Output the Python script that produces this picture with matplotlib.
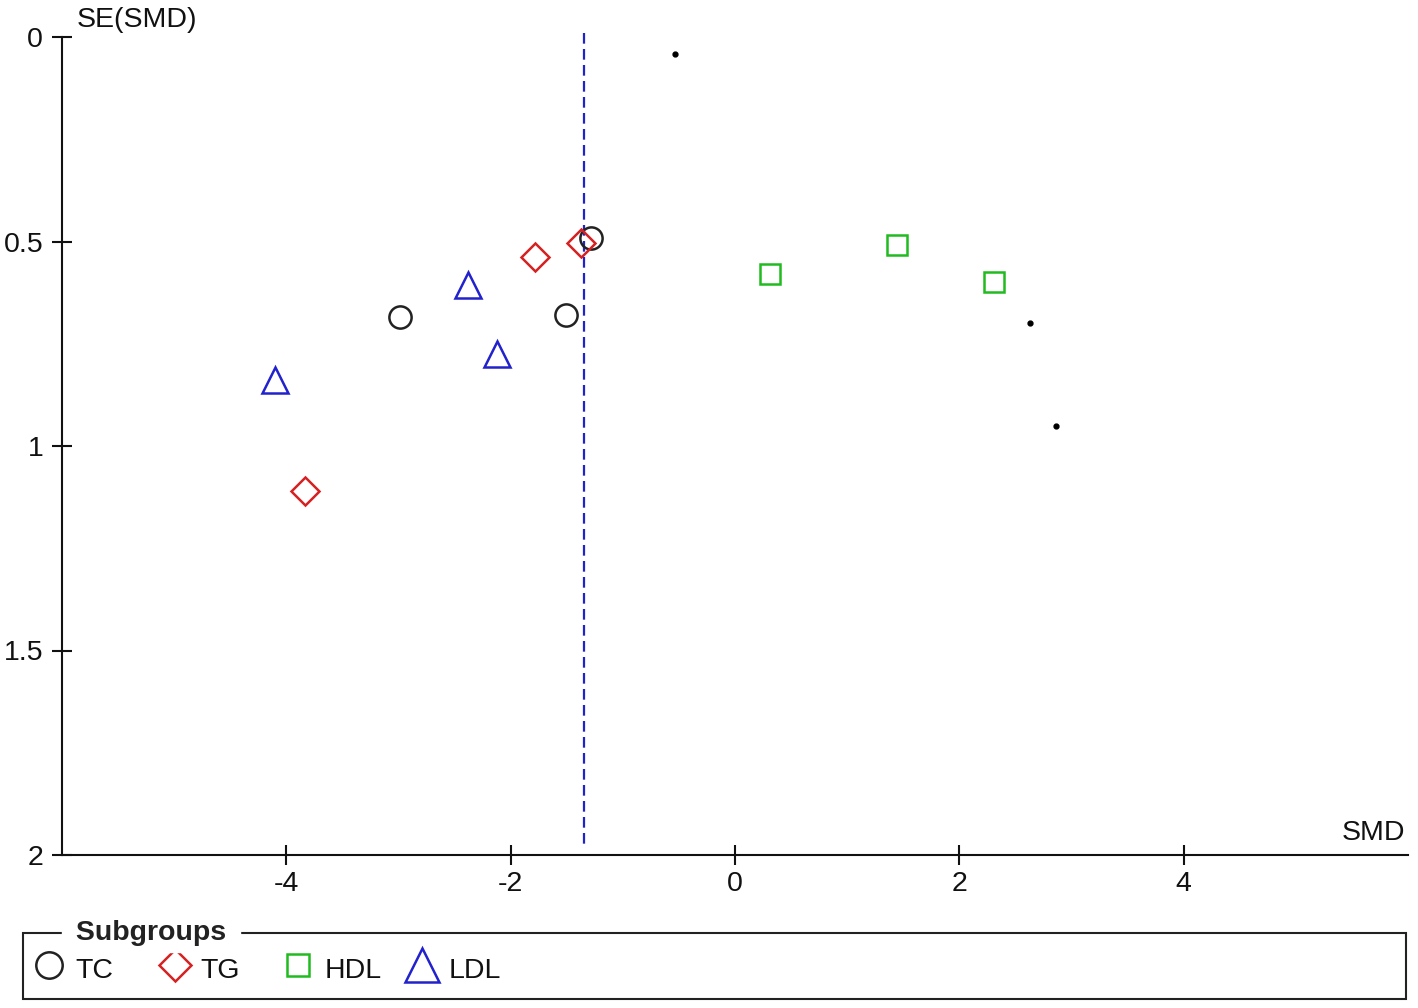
import matplotlib.pyplot as plt
from matplotlib.lines import Line2D
from matplotlib.patches import Rectangle

plt.rcParams["font.family"] = ["Liberation Sans", "DejaVu Sans"]

# funnel plot values: SMD (x) and SE(SMD) (y)
tc_smd = [-1.28, -2.99, -1.51]
tc_se = [0.492, 0.685, 0.680]
tg_smd = [-1.37, -1.78, -3.83]
tg_se = [0.504, 0.539, 1.109]
hdl_smd = [0.31, 1.44, 2.31]
hdl_se = [0.580, 0.509, 0.598]
ldl_smd = [-2.38, -2.12, -4.10]
ldl_se = [0.607, 0.774, 0.839]
other_smd = [-0.536, 2.63, 2.86]
other_se = [0.042, 0.699, 0.951]
pooled_smd = -1.343

x_ticks = [-4, -2, 0, 2, 4]
y_ticks = [0, 0.5, 1, 1.5, 2]
y_tick_labels = ["0", "0.5", "1", "1.5", "2"]

groups = ["TC", "TG", "HDL", "LDL"]
colors = {"TC": "#222222", "TG": "#d42222", "HDL": "#1fbb1f", "LDL": "#2222cc"}
markers = {"TC": ("o", 16), "TG": ("D", 14.5), "HDL": ("s", 14.5), "LDL": ("^", 19)}

fs = 20.5

fig = plt.figure(figsize=(14.18, 10.08), dpi=100)
ax = fig.add_axes([62 / 1418, 1 - 855 / 1008, 1346 / 1418, 818 / 1008])

series = {
    "TC": (tc_smd, tc_se),
    "TG": (tg_smd, tg_se),
    "HDL": (hdl_smd, hdl_se),
    "LDL": (ldl_smd, ldl_se),
}
for name in groups:
    xs, ys = series[name]
    m, ms = markers[name]
    ax.plot(xs, ys, linestyle="none", marker=m, markersize=ms,
            markerfacecolor="none", markeredgecolor=colors[name],
            markeredgewidth=1.8, clip_on=False, zorder=3)

ax.plot(other_smd, other_se, linestyle="none", marker="o", markersize=3.5,
        color="black", zorder=3)

ax.plot([pooled_smd, pooled_smd], [-0.01, 1.98], color="#2222cc",
        linewidth=1.6, linestyle=(0, (4.8, 2.4)), clip_on=False, zorder=2)

ax.set_xlim(-6, 6)
ax.set_ylim(2, 0)
ax.set_xticks(x_ticks)
ax.set_xticklabels([str(t) for t in x_ticks])
ax.set_yticks(y_ticks)
ax.set_yticklabels(y_tick_labels)

for side in ["top", "right"]:
    ax.spines[side].set_visible(False)
for side in ["left", "bottom"]:
    ax.spines[side].set_linewidth(1.5)
    ax.spines[side].set_color("#111111")

ax.tick_params(axis="both", direction="inout", length=15, width=1.5,
               color="#111111", labelsize=fs, labelcolor="#111111")
ax.tick_params(axis="x", pad=4)
ax.tick_params(axis="y", pad=6)

fig.text(77 / 1418, 1 - 20 / 1008, "SE(SMD)", fontsize=fs, color="#111111",
         ha="left", va="center")
fig.text(1405 / 1418, 1 - 833 / 1008, "SMD", fontsize=fs, color="#111111",
         ha="right", va="center")

# legend box drawn by hand, title sitting on the top border
lg = fig.add_axes([0, 0, 1, 1])
lg.set_xlim(0, 1418)
lg.set_ylim(1008, 0)
lg.axis("off")
lg.add_patch(Rectangle((23, 933), 1383, 66, fill=False, edgecolor="#222222",
                       linewidth=1.5))
lg.text(68, 933, " Subgroups ", fontsize=fs, fontweight="bold", color="#222222",
        ha="left", va="center", backgroundcolor="white")

leg_pos = {"TC": (49, 75), "TG": (175, 200), "HDL": (298, 325), "LDL": (422, 449)}
leg_ms = {"TC": 19, "TG": 16, "HDL": 16, "LDL": 24}
for name in groups:
    mx, tx = leg_pos[name]
    m, _ = markers[name]
    lg.add_line(Line2D([mx], [965], marker=m, markersize=leg_ms[name],
                       markerfacecolor="none", markeredgecolor=colors[name],
                       markeredgewidth=1.8, linestyle="none"))
    lg.text(tx, 971, name, fontsize=fs, color="#111111", ha="left", va="center")

fig.savefig("out.png", dpi=100, facecolor="white")
